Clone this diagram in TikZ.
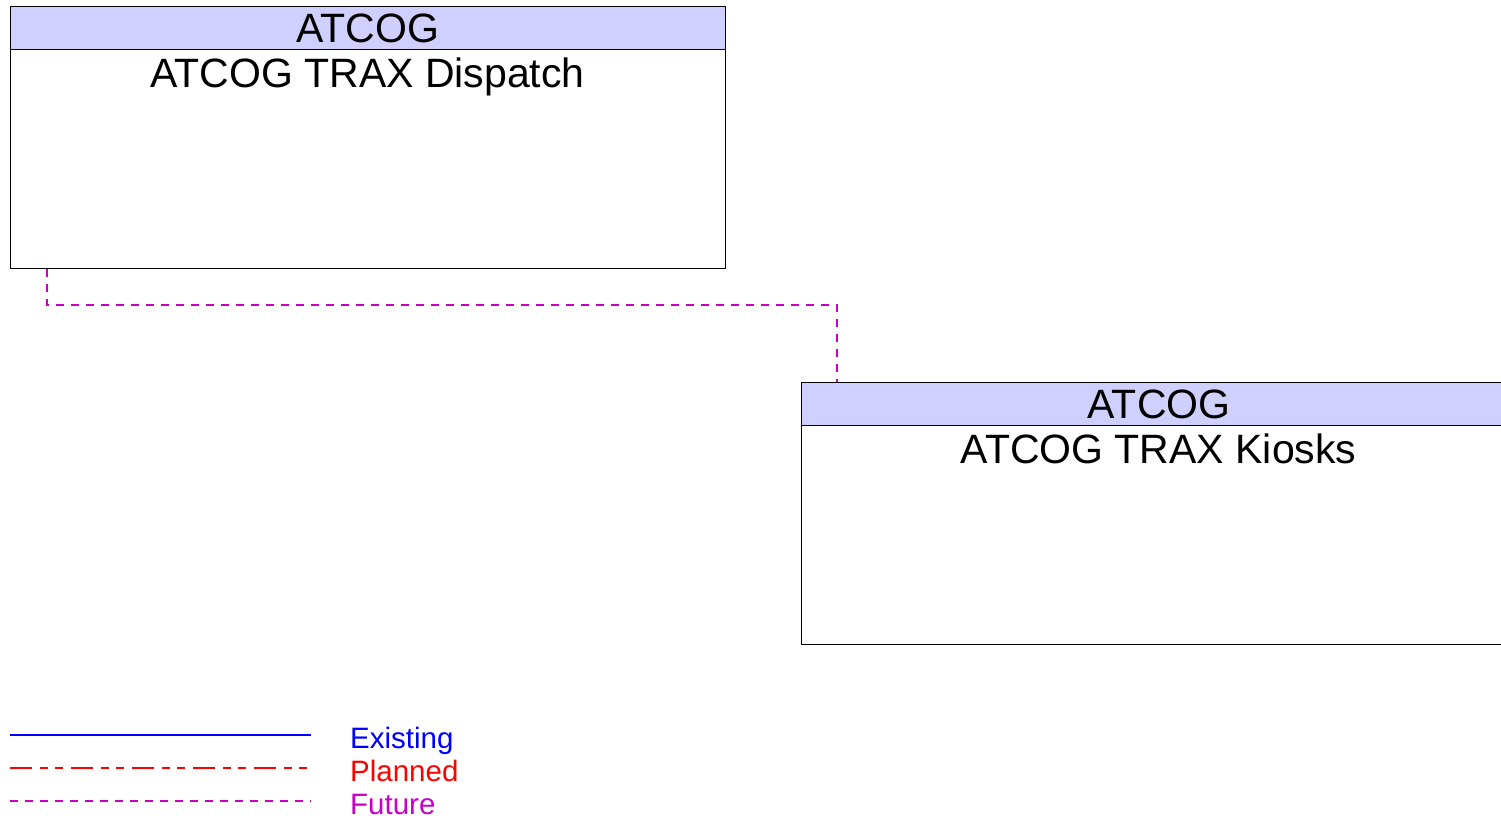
\documentclass[tikz,border=0pt]{standalone}
\usepackage{fontspec}
\setmainfont{Liberation Sans}
\definecolor{hdr}{RGB}{208,208,255}
\definecolor{magline}{RGB}{200,0,200}
\definecolor{exc}{RGB}{0,0,255}
\definecolor{plc}{RGB}{255,0,0}
\begin{document}
\begin{tikzpicture}[x=1pt,y=-1pt,
  box/.style={draw=black,line width=1pt,fill=white,minimum width=715pt,minimum height=262pt,anchor=north west,inner sep=0pt},
  hdrbox/.style={draw=black,line width=1pt,fill=hdr,minimum width=715pt,minimum height=43pt,anchor=north west,inner sep=0pt,text height=29.4pt,text depth=0pt,font=\fontsize{41}{41}\selectfont},
  nm/.style={font=\fontsize{41}{41}\selectfont,inner sep=0pt,anchor=base},
  futureline/.style={draw=magline,line width=1.3pt,dash pattern=on 8pt off 7pt},
  existingline/.style={draw=exc,line width=2pt},
  plannedline/.style={draw=plc,line width=1.3pt,dash pattern=on 22pt off 8pt on 8pt off 7pt on 8pt off 8pt},
  lg/.style={font=\fontsize{29.5}{29.5}\selectfont,anchor=base west,inner sep=0pt}
]
\useasboundingbox (0,0) rectangle (1501,820);
% Dispatch
\node[box] (d) at (10,6) {};
\node[hdrbox] (dh) at (10,6) {ATCOG};
\node[nm] (dn) at (367.5,87) {ATCOG TRAX Dispatch};
% Kiosks
\node[box] (k) at (801,382) {};
\node[hdrbox] (kh) at (801,382) {ATCOG};
\node[nm] (kn) at (1158.5,463) {ATCOG TRAX Kiosks};
% connector
\draw[futureline] ([xshift=37pt]d.south west) -- ++(0,36) -| ([xshift=36pt]kh.north west);
% legend
\coordinate (e1) at (10,735); \coordinate (e2) at (311,735);
\coordinate (p1) at (10,768); \coordinate (p2) at (311,768);
\coordinate (f1) at (10,801); \coordinate (f2) at (311,801);
\draw[existingline] (e1) -- (e2);
\draw[plannedline] (p1) -- (p2);
\draw[futureline] (f1) -- (f2);
\node[lg,text=exc] (le) at (350,748) {Existing};
\node[lg,text=plc] (lp) at (350,781) {Planned};
\node[lg,text=magline] (lf) at (350,814) {Future};
\end{tikzpicture}
\end{document}
